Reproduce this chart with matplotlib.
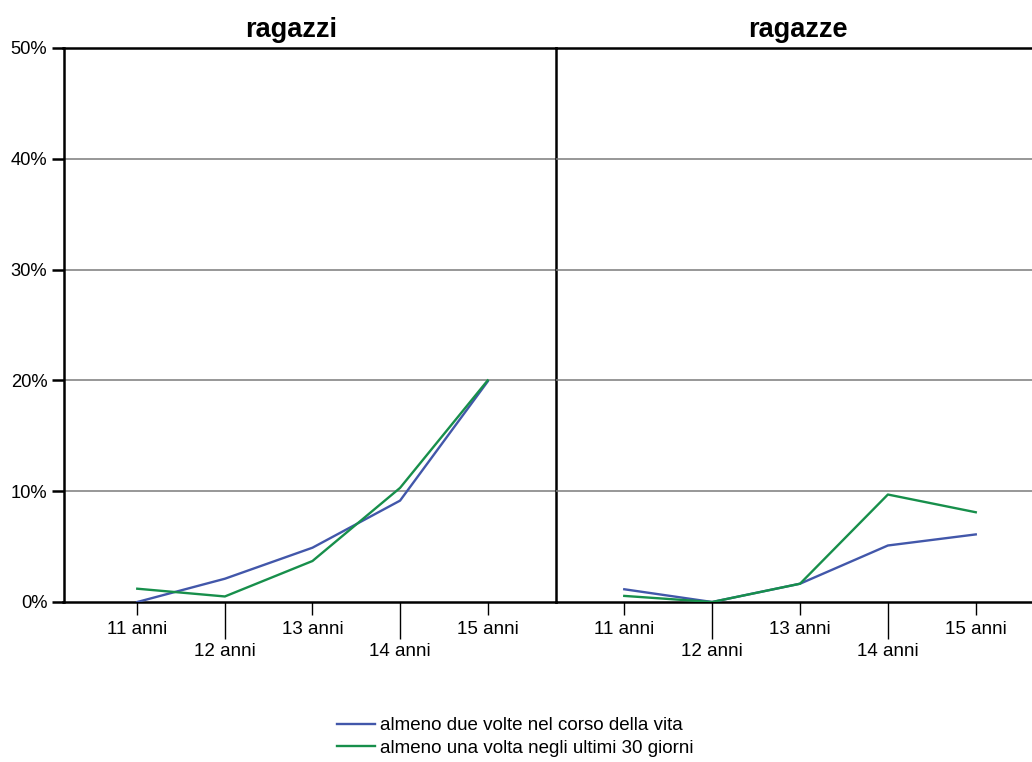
import matplotlib
matplotlib.use("Agg")
import matplotlib.pyplot as plt

plt.rcParams["font.family"] = ["Liberation Sans", "DejaVu Sans"]

# data (percent)
categorie = ["11 anni", "12 anni", "13 anni", "14 anni", "15 anni"]
ragazzi_due_volte = [0.0, 2.1, 4.9, 9.15, 19.9]
ragazzi_ultimi_30 = [1.2, 0.5, 3.7, 10.3, 20.0]
ragazze_due_volte = [1.15, 0.0, 1.65, 5.1, 6.1]
ragazze_ultimi_30 = [0.55, 0.0, 1.65, 9.7, 8.1]
y_ticks = [0, 10, 20, 30, 40, 50]
y_labels = ["0%", "10%", "20%", "30%", "40%", "50%"]
serie_labels = ["almeno due volte nel corso della vita",
                "almeno una volta negli ultimi 30 giorni"]

BLU = "#4257AA"
VERDE = "#178F4B"
W, H = 1032, 762

fig = plt.figure(figsize=(W / 100, H / 100), dpi=100)


def px_axes(x0, x1, y0, y1):
    return fig.add_axes([x0 / W, 1 - y1 / H, (x1 - x0) / W, (y1 - y0) / H])


ax1 = px_axes(63.5, 556, 48, 602)
ax2 = px_axes(556, 1032, 48, 602)
ax2.patch.set_visible(False)

panels = [
    (ax1, "ragazzi", ragazzi_due_volte, ragazzi_ultimi_30, (-0.842, 4.78), 0.462),
    (ax2, "ragazze", ragazze_due_volte, ragazze_ultimi_30, (-0.777, 4.64), 0.509),
]

x = list(range(len(categorie)))
pari = x[0::2]
dispari = x[1::2]
for ax, titolo, s1, s2, xl, tx in panels:
    l1, = ax.plot(x, s1, color=BLU, lw=1.7, label=serie_labels[0], zorder=3)
    l2, = ax.plot(x, s2, color=VERDE, lw=1.7, label=serie_labels[1], zorder=3)
    ax.set_xlim(*xl)
    ax.set_ylim(0, 50)
    ax.set_yticks(y_ticks)
    for yv in y_ticks[1:-1]:
        ax.axhline(yv, color="#7a7a7a", lw=1.1, zorder=1)
    # staggered labels: upper row as major ticks, lower row as minor ticks
    ax.set_xticks(pari, [categorie[i] for i in pari])
    ax.set_xticks(dispari, [categorie[i] for i in dispari], minor=True)
    ax.tick_params(axis="x", which="major", length=9.4, width=1.0, pad=4.0, labelsize=13.5)
    ax.tick_params(axis="x", which="minor", length=26.6, width=1.0, pad=2.7, labelsize=13.5)
    for sp in ax.spines.values():
        sp.set_linewidth(1.8)
        sp.set_color("black")
    ax.set_title(titolo, fontsize=19.5, fontweight="bold", x=tx, pad=8)

ax1.set_yticklabels(y_labels, fontsize=13.2)
ax1.tick_params(axis="y", length=8.6, width=1.8, pad=3)
ax2.tick_params(axis="y", left=False, labelleft=False)
ax2.spines["left"].set_visible(False)
ax2.spines["right"].set_visible(False)

fig.legend(handles=[l1, l2], labels=serie_labels, loc="upper left",
           bbox_to_anchor=(337 / W, 1 - 717 / H), frameon=False, fontsize=13.5,
           handlelength=2.0, handletextpad=0.27, labelspacing=0.3,
           borderpad=0, borderaxespad=0)

fig.savefig("out.png", dpi=100)
